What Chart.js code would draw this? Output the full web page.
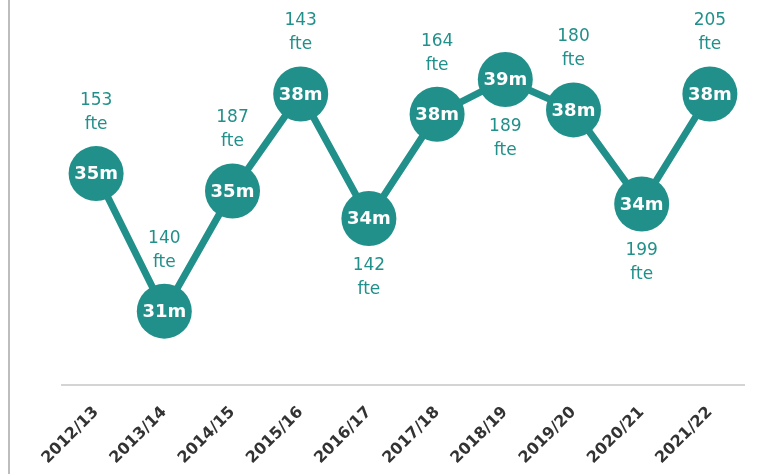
<!DOCTYPE html>
<html><head><meta charset="utf-8">
<script src="https://cdn.jsdelivr.net/npm/chart.js@4/dist/chart.umd.min.js"></script>
<style>
html,body{margin:0;padding:0;background:#fff;}
#wrap{position:relative;width:772px;height:474px;}
</style></head>
<body><div id="wrap"><canvas id="c" width="772" height="474"></canvas></div>
<script>
const categories = ['2012/13','2013/14','2014/15','2015/16','2016/17','2017/18','2018/19','2019/20','2020/21','2021/22'];
const spend = [35.75, 31.0, 35.15, 38.5, 34.2, 37.8, 39.0, 37.95, 34.7, 38.5];
const spendLabels = ['35m','31m','35m','38m','34m','38m','39m','38m','34m','38m'];
const fte = [153, 140, 187, 143, 142, 164, 189, 180, 199, 205];

const TEAL = '#22908a';
const labelSide = ['above','above','above','above','below','above','below','above','below','above'];

const decor = {
  id: 'decor',
  beforeDraw(chart) {
    const ctx = chart.ctx;
    ctx.save();
    ctx.strokeStyle = '#bdbdbd';
    ctx.lineWidth = 2;
    ctx.beginPath(); ctx.moveTo(9, 0); ctx.lineTo(9, chart.height); ctx.stroke();
    ctx.restore();
  },
  afterDatasetsDraw(chart) {
    const ctx = chart.ctx;
    const meta = chart.getDatasetMeta(0);
    ctx.save();
    ctx.textAlign = 'center';
    ctx.textBaseline = 'middle';
    meta.data.forEach((pt, i) => {
      ctx.fillStyle = '#ffffff';
      ctx.font = 'bold 18px "DejaVu Sans"';
      ctx.fillText(spendLabels[i], pt.x, pt.y + 1);
      ctx.fillStyle = TEAL;
      ctx.font = '17px "DejaVu Sans"';
      if (labelSide[i] === 'above') {
        ctx.fillText(String(fte[i]), pt.x, pt.y - 73);
        ctx.fillText('fte', pt.x, pt.y - 49);
      } else {
        ctx.fillText(String(fte[i]), pt.x, pt.y + 47);
        ctx.fillText('fte', pt.x, pt.y + 71);
      }
    });
    ctx.restore();
  }
};

new Chart(document.getElementById('c'), {
  type: 'line',
  data: {
    labels: categories,
    datasets: [{
      data: spend,
      borderColor: TEAL,
      backgroundColor: TEAL,
      borderWidth: 7,
      pointRadius: 27.5,
      pointHoverRadius: 27.5,
      pointBackgroundColor: TEAL,
      pointBorderWidth: 0,
      tension: 0,
      clip: false
    }]
  },
  options: {
    responsive: false,
    animation: false,
    events: [],
    layout: { autoPadding: false, padding: { left: 62, right: 28, top: 10, bottom: 0 } },
    plugins: { legend: { display: false }, tooltip: { enabled: false } },
    scales: {
      x: {
        offset: true,
        grid: { display: false, drawTicks: false },
        border: { display: true, color: '#d4d4d4', width: 2 },
        ticks: {
          color: '#333333',
          font: { family: '"DejaVu Sans"', weight: 'bold', size: 16 },
          maxRotation: 45, minRotation: 45,
          padding: 18,
          autoSkip: false
        },
        afterFit(scale) { scale.height = 89; }
      },
      y: {
        display: false,
        min: 28.45,
        max: 41.4
      }
    }
  },
  plugins: [decor]
});
</script>
</body></html>
